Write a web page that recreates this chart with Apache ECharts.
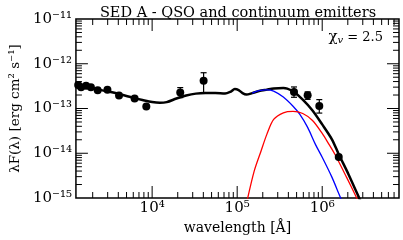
<!DOCTYPE html>
<html>
<head>
<meta charset="utf-8">
<script src="https://cdn.jsdelivr.net/npm/echarts@6/dist/echarts.min.js"></script>
<style>html,body{margin:0;padding:0;background:#fff}#c{width:403px;height:240px}</style>
</head>
<body>
<div id="c"></div>
<script>
// ---- data (wavelength [Å], λF(λ) [erg cm^-2 s^-1]) ----
const xRange = [1270, 8e6];
const yRange = [1e-15, 1e-11];

const xMajorTicks = [1e4, 1e5, 1e6];
const xMinorTicks = [2e3,3e3,4e3,5e3,6e3,7e3,8e3,9e3,2e4,3e4,4e4,5e4,6e4,7e4,8e4,9e4,2e5,3e5,4e5,5e5,6e5,7e5,8e5,9e5,2e6,3e6,4e6,5e6,6e6,7e6];
const yMajorTicks = [1e-14, 1e-13, 1e-12];
const yMinorTicks = [];
[-15,-14,-13,-12].forEach(n => { for (let k = 2; k <= 9; k++) yMinorTicks.push(k * Math.pow(10, n)); });

const obsPoints = [
  [1350, 3.35e-13], [1460, 3.0e-13], [1670, 3.24e-13], [1905, 2.97e-13], [2290, 2.55e-13],
  [2980, 2.64e-13], [4080, 1.95e-13], [6220, 1.67e-13], [8540, 1.11e-13],
  [21400, 2.27e-13], [40300, 4.19e-13], [466000, 2.33e-13], [674000, 1.98e-13],
  [924000, 1.14e-13], [1564000, 8.2e-15]
];
// [wavelength, value, low, high]
const obsErrors = [
  [21400, 2.27e-13, 1.75e-13, 2.93e-13],
  [40300, 4.19e-13, 2.27e-13, 6.3e-13],
  [466000, 2.33e-13, 1.78e-13, 3.03e-13],
  [674000, 1.98e-13, 1.6e-13, 2.35e-13],
  [924000, 1.14e-13, 7.9e-14, 1.58e-13]
];

const totalModel = [
  [1270, 3.36e-13], [1585, 3.08e-13], [2062, 2.78e-13], [2683, 2.51e-13], [3490, 2.27e-13],
  [4540, 2.0e-13], [5906, 1.75e-13], [7690, 1.55e-13], [10000, 1.39e-13], [12340, 1.34e-13],
  [14840, 1.39e-13], [19310, 1.67e-13], [25120, 1.95e-13], [32660, 2.15e-13], [42540, 2.21e-13],
  [55340, 2.21e-13], [71940, 2.15e-13], [84330, 2.39e-13], [93590, 2.71e-13], [104000, 2.58e-13],
  [115600, 2.21e-13], [128400, 2.05e-13], [150400, 2.21e-13], [180700, 2.45e-13], [223300, 2.64e-13],
  [268500, 2.81e-13], [349000, 2.86e-13], [388000, 2.78e-13], [454000, 2.42e-13], [590600, 1.58e-13],
  [769000, 9.03e-14], [1000000, 4.41e-14], [1300000, 2.05e-14], [1564000, 9.5e-15],
  [2035000, 3.41e-15], [2720000, 1.0e-15], [3020000, 6.3e-16]
];
const qsoComponent = [
  [150400, 2.21e-13], [180700, 2.51e-13], [223300, 2.61e-13], [268500, 2.45e-13], [349000, 1.80e-13],
  [454000, 1.12e-13], [546000, 7.36e-14], [674000, 3.78e-14], [832000, 1.58e-14], [1000000, 8.15e-15],
  [1300000, 2.93e-15], [1649000, 1.0e-15], [1830000, 6.6e-16]
];
const continuumComponent = [
  [128400, 7.4e-16], [158500, 3.98e-15], [190500, 1.11e-14], [223300, 2.64e-14], [268500, 5.70e-14],
  [349000, 8.02e-14], [454000, 8.62e-14], [590600, 7.74e-14], [769000, 5.41e-14], [1000000, 2.78e-14],
  [1202000, 1.58e-14], [1409000, 9.5e-15], [1930000, 2.93e-15], [2512000, 1.05e-15], [2860000, 6.3e-16]
];

const titleText = 'SED A - QSO and continuum emitters';
const xName = 'wavelength [Å]';
const yName = 'λF(λ) [erg cm² s⁻¹]';

// ---- build ----
const FONT = 'DejaVu Serif';
const supMap = {'-':'⁻','0':'⁰','1':'¹','2':'²','3':'³','4':'⁴','5':'⁵','6':'⁶','7':'⁷','8':'⁸','9':'⁹'};
function pow10Label(v) {
  const n = Math.log10(v);
  const r = Math.round(n);
  if (Math.abs(n - r) > 1e-6) return '';
  return '10' + String(r).split('').map(c => supMap[c]).join('');
}

const MAJ = 12, MIN = 6;
const tickItems = [];
xMajorTicks.forEach(v => { tickItems.push([v, yRange[0], 0, -MAJ]); tickItems.push([v, yRange[1], 0, MAJ]); });
xMinorTicks.forEach(v => { tickItems.push([v, yRange[0], 0, -MIN]); tickItems.push([v, yRange[1], 0, MIN]); });
yMajorTicks.forEach(v => { tickItems.push([xRange[0], v, MAJ, 0]); tickItems.push([xRange[1], v, -MAJ, 0]); });
yMinorTicks.forEach(v => { tickItems.push([xRange[0], v, MIN, 0]); tickItems.push([xRange[1], v, -MIN, 0]); });

const chart = echarts.init(document.getElementById('c'), null, {renderer: 'canvas'});
chart.setOption({
  animation: false,
  backgroundColor: '#fff',
  title: {
    text: titleText, left: 233, textAlign: 'center', top: 1,
    textStyle: {fontFamily: FONT, fontSize: 14.5, fontWeight: 'normal', color: '#000'}
  },
  grid: {left: 67, right: 4, top: 19, bottom: 41, show: true, borderColor: '#000', borderWidth: 1.5, backgroundColor: 'transparent'},
  xAxis: {
    type: 'log', logBase: 10, min: xRange[0], max: xRange[1],
    name: xName, nameLocation: 'middle', nameGap: 23,
    nameTextStyle: {fontFamily: FONT, fontSize: 14, color: '#000'},
    axisLine: {show: false}, axisTick: {show: false}, splitLine: {show: false}, minorTick: {show: false},
    axisLabel: {formatter: pow10Label, fontFamily: FONT, fontSize: 15, color: '#000', margin: 3, showMinLabel: false, showMaxLabel: false}
  },
  yAxis: {
    type: 'log', logBase: 10, min: yRange[0], max: yRange[1],
    name: yName, nameLocation: 'middle', nameGap: 53, nameRotate: 90,
    nameTextStyle: {fontFamily: FONT, fontSize: 13.5, color: '#000'},
    axisLine: {show: false}, axisTick: {show: false}, splitLine: {show: false},
    axisLabel: {formatter: pow10Label, fontFamily: FONT, fontSize: 15, color: '#000', margin: 4}
  },
  graphic: [{
    type: 'text', right: 20, top: 30,
    style: {
      text: '{a|χ}{b|v}{c| = 2.5}',
      rich: {
        a: {fontFamily: FONT, fontSize: 15, fill: '#000'},
        b: {fontFamily: FONT, fontSize: 10, fontStyle: 'italic', fill: '#000', verticalAlign: 'bottom', padding: [6, 0, 0, 0]},
        c: {fontFamily: FONT, fontSize: 13, fill: '#000'}
      }
    }
  }],
  series: [
    {type: 'line', data: totalModel, smooth: 0.3, showSymbol: false, lineStyle: {color: '#000', width: 2.5}, z: 2},
    {type: 'line', data: qsoComponent, smooth: 0.3, showSymbol: false, lineStyle: {color: '#0000ff', width: 1.3}, z: 3},
    {type: 'line', data: continuumComponent, smooth: 0.3, showSymbol: false, lineStyle: {color: '#ff0000', width: 1.3}, z: 3},
    {
      type: 'custom', data: obsErrors, z: 5, encode: {x: 0, y: 1},
      renderItem: function (params, api) {
        const x = api.value(0);
        const lo = api.coord([x, api.value(2)]);
        const hi = api.coord([x, api.value(3)]);
        const w = 3;
        return {type: 'group', children: [
          {type: 'line', shape: {x1: lo[0], y1: lo[1], x2: hi[0], y2: hi[1]}, style: {stroke: '#000', lineWidth: 1.2}},
          {type: 'line', shape: {x1: lo[0] - w, y1: lo[1], x2: lo[0] + w, y2: lo[1]}, style: {stroke: '#000', lineWidth: 1.2}},
          {type: 'line', shape: {x1: hi[0] - w, y1: hi[1], x2: hi[0] + w, y2: hi[1]}, style: {stroke: '#000', lineWidth: 1.2}}
        ]};
      }
    },
    {type: 'scatter', data: obsPoints, symbol: 'circle', symbolSize: 8, itemStyle: {color: '#000', opacity: 1}, z: 6},
    {
      type: 'custom', data: tickItems, z: 4, clip: false, encode: {x: 0, y: 1}, silent: true,
      renderItem: function (params, api) {
        const p = api.coord([api.value(0), api.value(1)]);
        return {type: 'line', shape: {x1: p[0], y1: p[1], x2: p[0] + api.value(2), y2: p[1] + api.value(3)}, style: {stroke: '#000', lineWidth: 1}};
      }
    }
  ]
});
</script>
</body>
</html>
